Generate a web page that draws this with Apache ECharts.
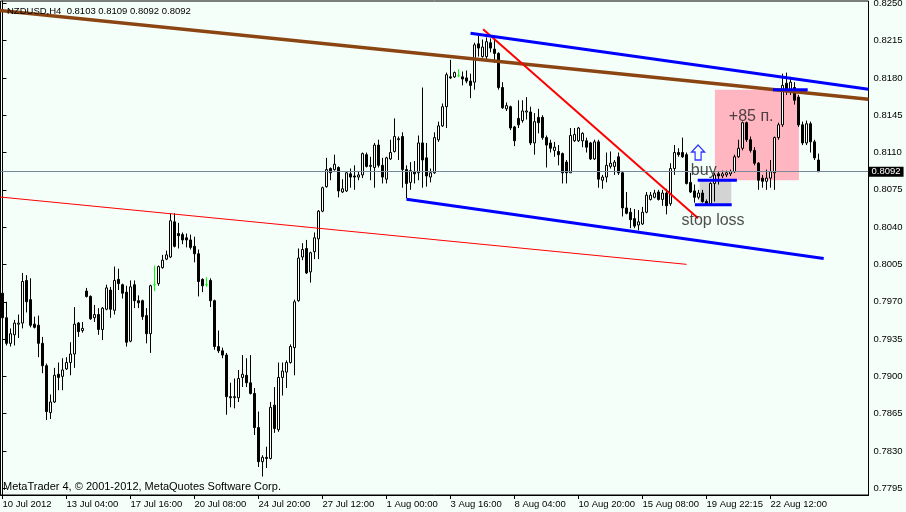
<!DOCTYPE html>
<html><head><meta charset="utf-8">
<script src="https://cdn.jsdelivr.net/npm/echarts@6/dist/echarts.min.js"></script>
<style>html,body{margin:0;padding:0;background:#F5FFFA;}#c{width:906px;height:512px;}</style>
</head><body><div id="c"></div>
<script>
const symbolName = 'NZDUSD,H4';
const opens = [0.7978,0.7955,0.7931,0.7939,0.7949,0.7950,0.7990,0.7972,0.7949,0.7948,
0.7931,0.7910,0.7866,0.7876,0.7902,0.7900,0.7907,0.7913,0.7921,0.7950,
0.7943,0.7980,0.7975,0.7955,0.7958,0.7944,0.7963,0.7981,0.7962,0.7991,
0.7986,0.7979,0.7933,0.7986,0.7971,0.7971,0.7957,0.7940,0.7986,0.7987,
0.8002,0.8010,0.8012,0.8045,0.8034,0.8033,0.8030,0.8028,0.8022,0.8015,
0.7991,0.7986,0.7990,0.7971,0.7928,0.7924,0.7920,0.7881,0.7880,0.7880,
0.7899,0.7901,0.7894,0.7884,0.7852,0.7820,0.7824,0.7823,0.7873,0.7850,
0.7899,0.7904,0.7913,0.7927,0.7971,0.8012,0.8020,0.7998,0.8017,0.8029,
0.8055,0.8078,0.8095,0.8094,0.8096,0.8073,0.8074,0.8090,0.8088,0.8087,
0.8089,0.8108,0.8097,0.8096,0.8117,0.8098,0.8085,0.8104,0.8111,0.8122,
0.8125,0.8094,0.8082,0.8092,0.8091,0.8119,0.8105,0.8087,0.8091,0.8122,
0.8135,0.8153,0.8181,0.8181,0.8182,0.8181,0.8180,0.8177,0.8176,0.8212,
0.8200,0.8200,0.8213,0.8207,0.8203,0.8171,0.8151,0.8153,0.8134,0.8142,
0.8140,0.8148,0.8148,0.8119,0.8143,0.8143,0.8124,0.8119,0.8112,0.8111,
0.8109,0.8101,0.8091,0.8121,0.8121,0.8121,0.8121,0.8119,0.8104,0.8120,
0.8084,0.8087,0.8097,0.8097,0.8106,0.8091,0.8058,0.8054,0.8048,0.8042,
0.8043,0.8054,0.8066,0.8068,0.8073,0.8066,0.8072,0.8062,0.8095,0.8110,
0.8110,0.8108,0.8082,0.8074,0.8068,0.8072,0.8064,0.8062,0.8081,0.8090,
0.8088,0.8089,0.8090,0.8092,0.8106,0.8114,0.8138,0.8122,0.8112,0.8100,
0.8086,0.8083,0.8086,0.8091,0.8124,0.8136,0.8175,0.8167,0.8171,0.8162,
0.8136,0.8119,0.8137,0.8120,0.8103];
const highs = [0.7986,0.7970,0.7945,0.7953,0.7958,0.7997,0.7995,0.7992,0.7956,0.7957,
0.7937,0.7912,0.7883,0.7908,0.7913,0.7917,0.7918,0.7932,0.7965,0.7951,
0.7951,0.7983,0.7976,0.7967,0.7964,0.7965,0.7986,0.7984,0.8003,0.8001,
0.7987,0.7985,0.7990,0.7990,0.7976,0.7972,0.7964,0.7986,0.8004,0.8004,
0.8014,0.8018,0.8053,0.8053,0.8044,0.8035,0.8034,0.8033,0.8031,0.8019,
0.7992,0.7993,0.7992,0.7972,0.7943,0.7927,0.7922,0.7894,0.7898,0.7906,
0.7920,0.7917,0.7920,0.7889,0.7867,0.7826,0.7834,0.7876,0.7890,0.7913,
0.7913,0.7915,0.7930,0.7972,0.8020,0.8025,0.8028,0.8017,0.8035,0.8056,
0.8078,0.8105,0.8096,0.8108,0.8097,0.8085,0.8092,0.8095,0.8098,0.8092,
0.8110,0.8110,0.8106,0.8119,0.8122,0.8105,0.8106,0.8122,0.8142,0.8125,
0.8129,0.8098,0.8101,0.8102,0.8126,0.8171,0.8119,0.8095,0.8129,0.8139,
0.8156,0.8185,0.8197,0.8186,0.8188,0.8186,0.8187,0.8184,0.8213,0.8220,
0.8216,0.8218,0.8217,0.8216,0.8204,0.8176,0.8157,0.8154,0.8135,0.8159,
0.8159,0.8162,0.8153,0.8147,0.8151,0.8145,0.8126,0.8122,0.8120,0.8117,
0.8110,0.8103,0.8133,0.8133,0.8134,0.8129,0.8124,0.8120,0.8122,0.8122,
0.8089,0.8110,0.8111,0.8103,0.8110,0.8092,0.8073,0.8058,0.8057,0.8056,
0.8059,0.8073,0.8073,0.8075,0.8075,0.8075,0.8076,0.8100,0.8117,0.8114,
0.8124,0.8110,0.8091,0.8080,0.8075,0.8075,0.8066,0.8082,0.8091,0.8092,
0.8093,0.8093,0.8094,0.8108,0.8122,0.8139,0.8139,0.8125,0.8115,0.8101,
0.8089,0.8094,0.8103,0.8125,0.8138,0.8184,0.8185,0.8181,0.8176,0.8164,
0.8139,0.8140,0.8139,0.8122,0.8109];
const lows = [0.7948,0.7929,0.7928,0.7929,0.7936,0.7945,0.7960,0.7946,0.7945,0.7918,
0.7903,0.7859,0.7860,0.7875,0.7887,0.7887,0.7906,0.7901,0.7908,0.7937,
0.7941,0.7974,0.7953,0.7951,0.7939,0.7934,0.7962,0.7955,0.7958,0.7981,
0.7973,0.7928,0.7932,0.7964,0.7964,0.7953,0.7931,0.7922,0.7980,0.7985,
0.8001,0.8009,0.8011,0.8021,0.8020,0.8024,0.8021,0.8019,0.8007,0.7975,
0.7979,0.7984,0.7965,0.7925,0.7922,0.7917,0.7864,0.7871,0.7870,0.7876,
0.7890,0.7890,0.7883,0.7845,0.7815,0.7806,0.7814,0.7822,0.7847,0.7848,
0.7882,0.7889,0.7912,0.7901,0.7970,0.8009,0.7996,0.7988,0.8010,0.8010,
0.8054,0.8077,0.8084,0.8093,0.8068,0.8072,0.8073,0.8077,0.8075,0.8084,
0.8086,0.8096,0.8084,0.8077,0.8096,0.8081,0.8081,0.8103,0.8110,0.8103,
0.8077,0.8067,0.8075,0.8081,0.8084,0.8077,0.8078,0.8082,0.8090,0.8120,
0.8134,0.8133,0.8179,0.8180,0.8181,0.8173,0.8175,0.8161,0.8169,0.8200,
0.8199,0.8197,0.8204,0.8194,0.8169,0.8151,0.8149,0.8131,0.8116,0.8133,
0.8138,0.8141,0.8117,0.8108,0.8128,0.8122,0.8096,0.8110,0.8106,0.8098,
0.8081,0.8081,0.8091,0.8120,0.8120,0.8115,0.8110,0.8103,0.8103,0.8077,
0.8076,0.8082,0.8095,0.8089,0.8089,0.8050,0.8052,0.8039,0.8039,0.8037,
0.8042,0.8053,0.8065,0.8067,0.8065,0.8060,0.8052,0.8060,0.8089,0.8106,
0.8105,0.8080,0.8072,0.8063,0.8066,0.8063,0.8060,0.8061,0.8064,0.8080,
0.8086,0.8087,0.8088,0.8091,0.8105,0.8112,0.8120,0.8110,0.8098,0.8075,
0.8077,0.8075,0.8077,0.8075,0.8122,0.8134,0.8164,0.8164,0.8155,0.8134,
0.8117,0.8117,0.8110,0.8103,0.8092];
const closes = [0.7955,0.7931,0.7940,0.7950,0.7950,0.7989,0.7970,0.7948,0.7946,0.7931,
0.7910,0.7867,0.7876,0.7901,0.7899,0.7906,0.7913,0.7921,0.7949,0.7942,
0.7945,0.7975,0.7954,0.7958,0.7944,0.7964,0.7983,0.7963,0.7990,0.7987,
0.7978,0.7932,0.7984,0.7971,0.7969,0.7956,0.7940,0.7985,0.7986,0.8003,
0.8009,0.8014,0.8046,0.8022,0.8032,0.8028,0.8028,0.8021,0.8015,0.7989,
0.7985,0.7986,0.7971,0.7928,0.7924,0.7920,0.7881,0.7880,0.7881,0.7898,
0.7902,0.7894,0.7884,0.7852,0.7820,0.7824,0.7823,0.7871,0.7851,0.7899,
0.7905,0.7913,0.7928,0.7970,0.8011,0.8019,0.7997,0.8016,0.8030,0.8055,
0.8077,0.8094,0.8091,0.8099,0.8074,0.8076,0.8091,0.8087,0.8087,0.8089,
0.8109,0.8097,0.8098,0.8117,0.8098,0.8087,0.8105,0.8110,0.8125,0.8123,
0.8094,0.8081,0.8093,0.8090,0.8119,0.8103,0.8088,0.8091,0.8124,0.8135,
0.8153,0.8183,0.8180,0.8185,0.8182,0.8179,0.8177,0.8173,0.8211,0.8208,
0.8209,0.8214,0.8208,0.8203,0.8171,0.8152,0.8154,0.8133,0.8121,0.8136,
0.8149,0.8149,0.8119,0.8139,0.8138,0.8124,0.8117,0.8114,0.8115,0.8108,
0.8091,0.8091,0.8126,0.8127,0.8133,0.8128,0.8115,0.8104,0.8120,0.8085,
0.8087,0.8098,0.8100,0.8101,0.8091,0.8058,0.8053,0.8047,0.8041,0.8045,
0.8054,0.8070,0.8070,0.8072,0.8066,0.8072,0.8060,0.8095,0.8110,0.8108,
0.8106,0.8081,0.8073,0.8068,0.8072,0.8064,0.8062,0.8081,0.8089,0.8088,
0.8090,0.8091,0.8092,0.8106,0.8114,0.8138,0.8122,0.8112,0.8100,0.8084,
0.8083,0.8086,0.8092,0.8124,0.8136,0.8173,0.8167,0.8176,0.8159,0.8136,
0.8119,0.8137,0.8120,0.8105,0.8092];

const xTickLabels = ['10 Jul 2012','13 Jul 04:00','17 Jul 16:00','20 Jul 08:00','24 Jul 20:00','27 Jul 12:00','1 Aug 00:00','3 Aug 16:00','8 Aug 04:00','10 Aug 20:00','15 Aug 08:00','19 Aug 22:15','22 Aug 12:00'];
const xTickEvery = 16;
const emptyBarsRight = 12;
const yTicks = [0.7795,0.7830,0.7865,0.7900,0.7935,0.7970,0.8005,0.8040,0.8075,0.8110,0.8145,0.8180,0.8215,0.8250];
const yRange = [0.778871, 0.825216];

// drawn objects, in (bar index, price)
const trendLines = [
  {id:'brown', from:[-0.7, 0.82432], to:[216.5, 0.81599]},
  {id:'redLong', from:[-0.7, 0.80683], to:[171.0, 0.80051]},
  {id:'redPeak', from:[120.15, 0.82256], to:[173.9, 0.80483]},
  {id:'blueUp', from:[117.0, 0.82219], to:[216.5, 0.81693]},
  {id:'blueLow', from:[101.0, 0.80661], to:[205.3, 0.80106]},
  {id:'buyLevel', from:[173.8, 0.8084], to:[183.6, 0.8084]},
  {id:'stopLevel', from:[173.1, 0.8061], to:[182.3, 0.8061]},
  {id:'targetLevel', from:[192.6, 0.8169], to:[201.3, 0.8169]}
];
const zones = [
  {id:'profit', from:[178.1, 0.8169], to:[199.1, 0.8084]},
  {id:'risk', from:[174.3, 0.8084], to:[182.2, 0.8061]}
];
const notes = [
  {text:'+85 п.', at:[181.6, 0.81440]},
  {text:'buy', at:[172.1, 0.80934]},
  {text:'stop loss', at:[169.75, 0.80460]}
];
const buyArrow = [173.9, 0.8110];

const lineStyles = {
  brown:{color:'#8B4513', width:3.5}, redLong:{color:'#FF0000', width:1},
  redPeak:{color:'#FF0000', width:2}, blueUp:{color:'#0000FF', width:3},
  blueLow:{color:'#0000FF', width:3}, buyLevel:{color:'#0000FF', width:3},
  stopLevel:{color:'#0000FF', width:3}, targetLevel:{color:'#0000FF', width:3}
};
const zoneColors = {profit:'#FFB6C1', risk:'#D3D3D3'};

const axisFont = "'Liberation Sans', Arial, sans-serif";
const axisFontSize = 9.5;
const n = opens.length;
const cats = Array.from({length: n + emptyBarsRight}, (_, i) => String(i));
const lastPrice = closes[n - 1];
const showTick = (i) => i % xTickEvery === 0 && i / xTickEvery < xTickLabels.length;
const dojiStyle = {color:'#00FF00', color0:'#00FF00', borderColor:'#00FF00', borderColor0:'#00FF00', borderColorDoji:'#00FF00'};
const candleData = opens.map((o, i) => {
  const v = [o, closes[i], lows[i], highs[i]];
  return o === closes[i] ? {value: v, itemStyle: dojiStyle} : v;
});

const series = [];
series.push({
  type:'line', xAxisIndex:1, yAxisIndex:0, data:[], silent:true, z:1,
  markArea:{silent:true, data: zones.map(z => [
    {coord: z.from, itemStyle:{color: zoneColors[z.id], opacity:1}},
    {coord: z.to}
  ])}
});
series.push({
  type:'candlestick', xAxisIndex:0, yAxisIndex:0, z:3, barWidth:2,
  data: candleData,
  itemStyle:{color:'#FFFFFF', color0:'#000000', borderColor:'#000000', borderColor0:'#000000', borderWidth:1},
  markLine:{silent:true, precision:6, symbol:['none','none'], animation:false,
    lineStyle:{color:'#778899', width:1, type:'solid'},
    label:{show:true, position:'end', distance:0, formatter: lastPrice.toFixed(4),
      backgroundColor:'#000', color:'#fff', fontSize:axisFontSize, fontFamily:axisFont, padding:[0,3,0,3], lineHeight:10},
    data:[{yAxis:lastPrice}]}
});
trendLines.forEach(t => series.push({
  type:'line', xAxisIndex:1, yAxisIndex:0, z:4, silent:true, showSymbol:false, symbol:'none',
  data:[t.from, t.to], lineStyle:Object.assign({cap:'butt'}, lineStyles[t.id])
}));
series.push({
  type:'scatter', xAxisIndex:1, yAxisIndex:0, z:6, silent:true, symbolSize:0.1,
  itemStyle:{color:'rgba(0,0,0,0)'},
  data: notes.map(nt => ({value: nt.at, label:{show:true, formatter: nt.text, position:[0,0], align:'left', verticalAlign:'middle',
    fontSize:16, fontFamily:"'Liberation Sans', Arial, sans-serif", color:'#222'}}))
});
series.push({
  type:'scatter', xAxisIndex:1, yAxisIndex:0, z:6, silent:true,
  symbol:'path://M6.5,0 L13,7 L9.5,7 L9.5,15 L3.5,15 L3.5,7 L0,7 Z', symbolSize:[13,15],
  itemStyle:{color:'rgba(0,0,0,0)', borderColor:'#0000FF', borderWidth:1.3},
  data:[buyArrow]
});

const chart = echarts.init(document.getElementById('c'), null, {renderer:'canvas'});
chart.setOption({
  animation:false,
  backgroundColor:'#F5FFFA',
  grid:{left:0.5, right:37.5, top:1, bottom:17, show:true, borderColor:'#000', borderWidth:1, backgroundColor:'transparent', outerBoundsMode:'none'},
  xAxis:[{
    type:'category', data:cats, boundaryGap:true, position:'bottom',
    axisLine:{show:true, lineStyle:{color:'#000', width:1}},
    axisTick:{show:true, interval:(i)=>showTick(i), alignWithLabel:true, length:4, lineStyle:{color:'#000'}},
    axisLabel:{show:true, interval:(i)=>showTick(i), hideOverlap:false, formatter:(v,i)=>showTick(i)? xTickLabels[i/xTickEvery] : '',
      align:'left', margin:4, color:'#000', fontSize:axisFontSize, fontFamily:axisFont},
    splitLine:{show:false}
  },{
    type:'value', min:-0.5, max:cats.length-0.5, show:false, splitLine:{show:false}
  }],
  yAxis:[{
    type:'value', position:'right', min:yRange[0], max:yRange[1], scale:true,
    splitLine:{show:false},
    axisLine:{show:true, lineStyle:{color:'#000', width:1}},
    axisTick:{show:true, customValues:yTicks, length:4, lineStyle:{color:'#000'}},
    axisLabel:{show:true, customValues:yTicks, formatter:(v)=>v.toFixed(4), color:'#000', fontSize:axisFontSize, fontFamily:axisFont, margin:5}
  }],
  graphic:[
    {type:'text', left:7, top:6, z:10, silent:true, style:{text: symbolName + '  ' + [opens[n-1], highs[n-1], lows[n-1], closes[n-1]].map(v=>v.toFixed(4)).join(' '),
      fill:'#000', font:"9.5px 'Liberation Sans', Arial, sans-serif"}},
    {type:'text', left:3, top:481, z:10, silent:true, style:{text:'MetaTrader 4, © 2001-2012, MetaQuotes Software Corp.',
      fill:'#000', font:"11px 'Liberation Sans', Arial, sans-serif"}}
  ],
  series: series
});
</script></body></html>
